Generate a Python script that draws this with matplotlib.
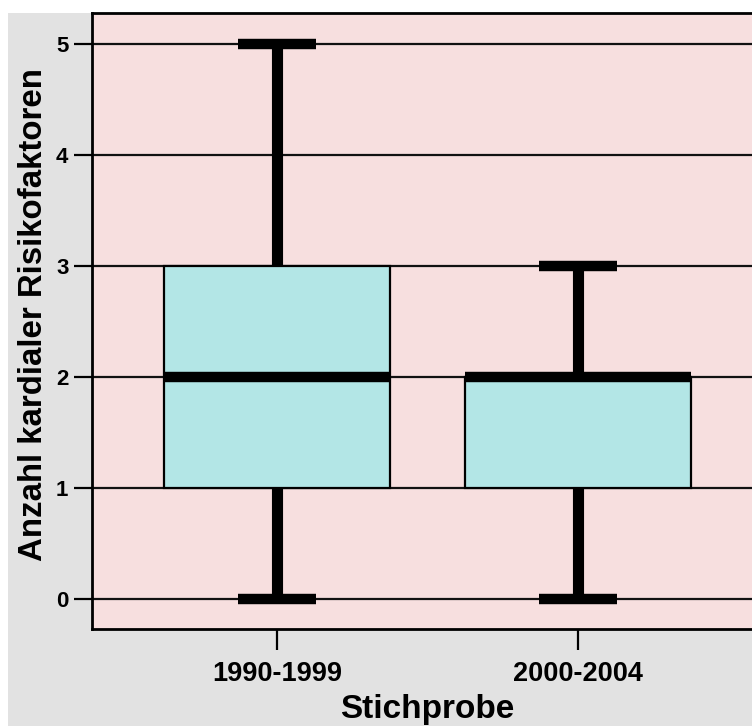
import matplotlib
matplotlib.use('Agg')
import matplotlib.pyplot as plt
from matplotlib.patches import Rectangle

plt.rcParams['font.family'] = ['Liberation Sans', 'DejaVu Sans']

# box plot summary values per group
groups = ['1990-1999', '2000-2004']
whis_lo = [0, 0]
q1 = [1, 1]
median = [2, 2]
q3 = [3, 2]
whis_hi = [5, 3]
yticks = [0, 1, 2, 3, 4, 5]

stats = []
for i, g in enumerate(groups):
    stats.append({'label': g, 'whislo': whis_lo[i], 'q1': q1[i], 'med': median[i],
                  'q3': q3[i], 'whishi': whis_hi[i], 'fliers': []})

W, H = 752, 726
fig = plt.figure(figsize=(W / 100, H / 100), dpi=100, facecolor='white')
# grey panel behind the plot (white strip on top/left)
fig.patches.append(Rectangle((8 / W, 0), 1, (H - 13) / H, transform=fig.transFigure,
                             facecolor='#e2e2e2', edgecolor='none', zorder=-5))

ax = fig.add_axes([92 / W, (H - 629) / H, (762 - 92) / W, (629 - 13) / H])
ax.set_facecolor('#f7dfdf')

ax.bxp(stats, positions=[1, 2], widths=0.75, patch_artist=True, showfliers=False,
       boxprops=dict(facecolor='#b3e6e6', edgecolor='black', linewidth=1.6),
       medianprops=dict(color='black', linewidth=7.5, solid_capstyle='butt'),
       whiskerprops=dict(color='black', linewidth=8, solid_capstyle='butt'),
       capprops=dict(color='black', linewidth=7.5, solid_capstyle='butt'),
       capwidths=0.26, zorder=3)

ax.set_xlim(0.385, 2.61)
ax.set_ylim(-0.27, 5.28)
ax.set_yticks(yticks)
ax.yaxis.grid(True, color='#111111', linewidth=1.6, zorder=1)
ax.set_axisbelow(True)

ax.tick_params(axis='y', length=13, width=1.6, pad=4, labelsize=16)
ax.tick_params(axis='x', length=15, width=1.6, pad=8, labelsize=19.5)
for lab in ax.get_xticklabels() + ax.get_yticklabels():
    lab.set_fontweight('bold')

for s in ax.spines.values():
    s.set_linewidth(2)

ax.set_xlabel('Stichprobe', fontsize=24, fontweight='bold', labelpad=5)
ax.set_ylabel('Anzahl kardialer Risikofaktoren', fontsize=23.8, fontweight='bold')
ax.yaxis.set_label_coords(-0.064, 0.511)

fig.savefig('out.png', dpi=100)
